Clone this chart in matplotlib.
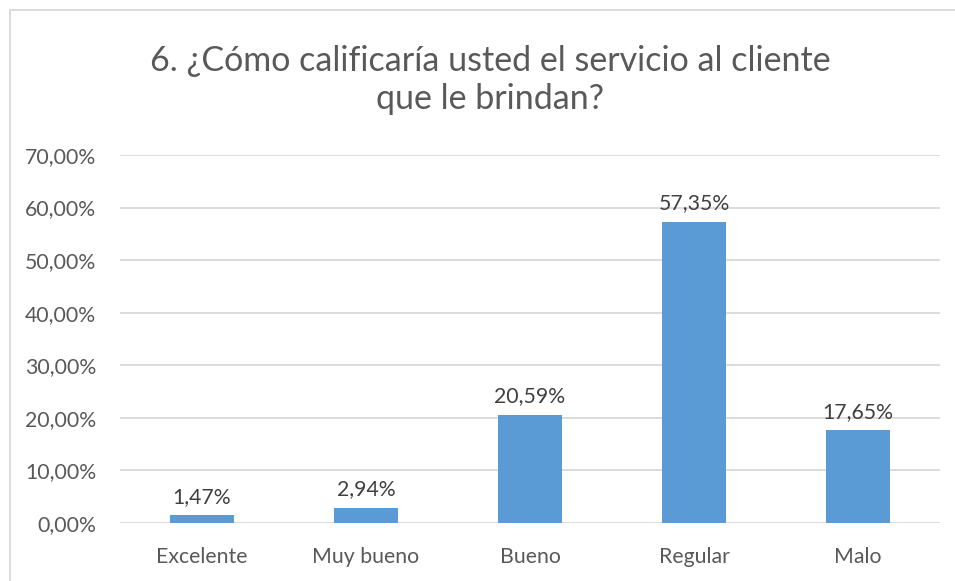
import matplotlib
matplotlib.use("Agg")
import matplotlib.pyplot as plt
from matplotlib.patches import Rectangle

categories = ["Excelente", "Muy bueno", "Bueno", "Regular", "Malo"]
values = [1.47, 2.94, 20.59, 57.35, 17.65]
yticks = [0, 10, 20, 30, 40, 50, 60, 70]
title = "6. ¿Cómo calificaría usted el servicio al cliente\nque le brindan?"

plt.rcParams['font.family'] = ['Lato', 'DejaVu Sans']
txt = '#595959'

fig = plt.figure(figsize=(9.55, 5.81), dpi=100)
W, H = 955, 581
ax = fig.add_axes([120 / W, 1 - 523 / H, 820 / W, (523 - 155) / H])

x = range(len(categories))
ax.bar(x, values, width=0.39, color='#5B9BD5', zorder=3)
ax.set_xlim(-0.5, len(categories) - 0.5)
ax.set_ylim(0, 70)
ax.set_yticks(yticks)
ax.set_yticklabels([f"{v:.2f}".replace('.', ',') + "%" for v in yticks], fontsize=15.3, color=txt)
ax.set_xticks(list(x))
ax.set_xticklabels(categories, fontsize=15.3, color=txt)
ax.tick_params(length=0)
ax.tick_params(axis='y', pad=17)
ax.tick_params(axis='x', pad=17)
ax.grid(axis='y', color='#D9D9D9', linewidth=1.3, zorder=0)
for s in ax.spines.values():
    s.set_visible(False)

for i, v in enumerate(values):
    ax.annotate(f"{v:.2f}".replace('.', ',') + "%", (i, v), xytext=(0, 6),
                textcoords='offset points', ha='center', va='bottom',
                fontsize=15.3, color='#404040')

fig.text(490 / W, 1 - 80 / H, title, ha='center', va='center', fontsize=24.5,
         color=txt, linespacing=1.2)

fig.patches.append(Rectangle((10 / W, -0.1), 1.2, 1 - 10 / H + 0.1, transform=fig.transFigure,
                             fill=False, edgecolor='#D9D9D9', linewidth=1.3))

fig.savefig("out.png", dpi=100)
